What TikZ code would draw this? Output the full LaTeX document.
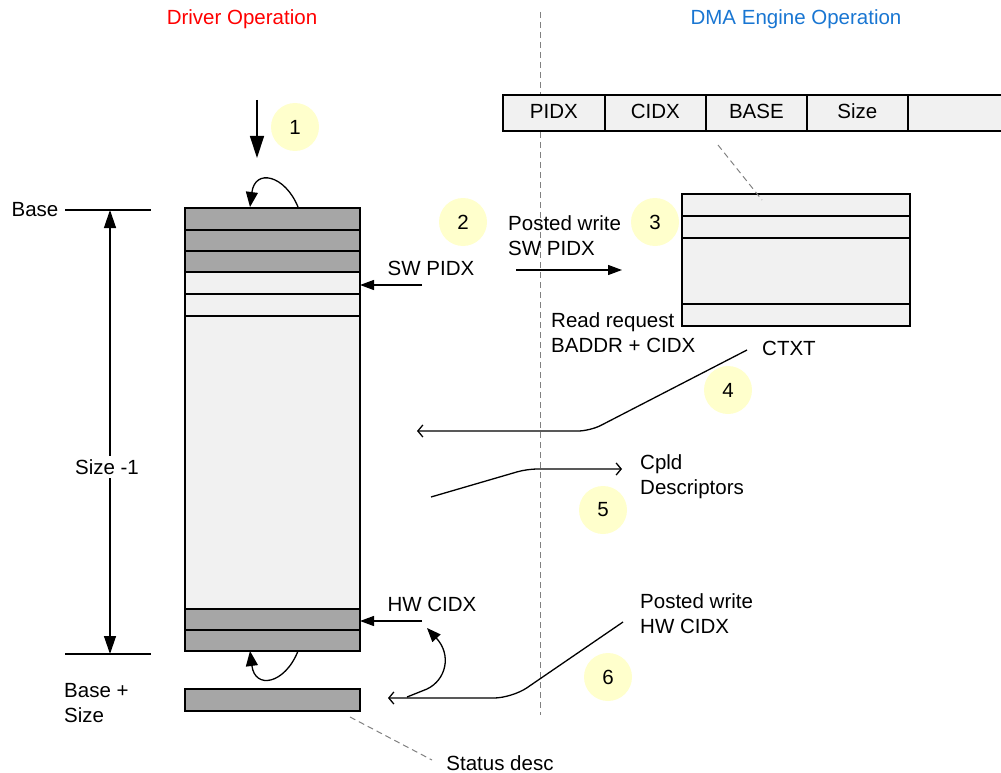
\documentclass[tikz,border=0pt]{standalone}
\usepackage{fontspec}
\setmainfont{Liberation Sans}
\usetikzlibrary{arrows.meta}
\definecolor{darkcell}{RGB}{166,166,166}
\definecolor{lightcell}{RGB}{241,241,241}
\definecolor{bubble}{RGB}{255,255,204}
\definecolor{titlered}{RGB}{255,0,0}
\definecolor{titleblue}{RGB}{25,118,210}
\tikzset{
  cell/.style={draw=black, line width=1.8pt, anchor=north west, inner sep=0pt, font=\fontsize{20.5}{24}\selectfont},
  dcell/.style={cell, fill=darkcell},
  lcell/.style={cell, fill=lightcell},
  tcell/.style={lcell, text height=15pt, text depth=4pt},
  bub/.style={circle, fill=bubble, minimum size=48pt, inner sep=0pt, font=\fontsize{20.5}{24}\selectfont},
  lbl/.style={font=\fontsize{20.5}{25}\selectfont, inner sep=0pt},
  lbll/.style={lbl, align=left, anchor=west},
  filled/.style={line width=1.3pt, -{Triangle[length=14pt,width=10pt]}},
  openar/.style={line width=1.3pt, -{Straight Barb[length=5pt,width=12pt]}},
  guide/.style={gray, dashed, line width=1pt, dash pattern=on 6pt off 4pt},
}
\begin{document}
\begin{tikzpicture}[x=1pt,y=-1pt]
\useasboundingbox (0,0) rectangle (1001,773);
\clip (0,0) rectangle (1001,773);
% titles
\node[lbl, text=titlered] (t1) at (242,19) {Driver Operation};
\node[lbl, text=titleblue] (t2) at (796,19) {DMA Engine Operation};
% divider
\coordinate (dvt) at (540,12);
\coordinate (dvb) at (540,715);
\draw[guide] (dvt) -- (dvb);
% left column
\node[dcell, minimum width=175pt, minimum height=22pt] (l1) at (184,207) {};
\node[dcell, minimum width=175pt, minimum height=21pt] (l2) at (184,229) {};
\node[dcell, minimum width=175pt, minimum height=21pt] (l3) at (184,250) {};
\node[lcell, minimum width=175pt, minimum height=22pt] (l4) at (184,271) {};
\node[lcell, minimum width=175pt, minimum height=22pt] (l5) at (184,293) {};
\node[lcell, minimum width=175pt, minimum height=293pt] (l6) at (184,315) {};
\node[dcell, minimum width=175pt, minimum height=21pt] (l7) at (184,608) {};
\node[dcell, minimum width=175pt, minimum height=21pt] (l8) at (184,629) {};
\node[dcell, minimum width=175pt, minimum height=22pt] (sd) at (184,688) {};
% top bar
\node[tcell, minimum width=102pt, minimum height=36pt] (pidx) at (502,94) {PIDX};
\node[tcell, minimum width=101pt, minimum height=36pt] (cidx) at (604,94) {CIDX};
\node[tcell, minimum width=101pt, minimum height=36pt] (base) at (705,94) {BASE};
\node[tcell, minimum width=101pt, minimum height=36pt] (size) at (806,94) {Size};
\node[tcell, minimum width=110pt, minimum height=36pt] (rest) at (907,94) {};
% context box
\node[lcell, minimum width=228pt, minimum height=22pt] (r1) at (681,193) {};
\node[lcell, minimum width=228pt, minimum height=22pt] (r2) at (681,215) {};
\node[lcell, minimum width=228pt, minimum height=66pt] (r3) at (681,237) {};
\node[lcell, minimum width=228pt, minimum height=22pt] (r4) at (681,303) {};
\coordinate (bs1) at (718,145);
\coordinate (bs2) at (762,200);
\draw[guide] (bs1) -- (bs2);
% bubbles
\node[bub] (b1) at (295,127) {1};
\node[bub] (b2) at (463,222) {2};
\node[bub] (b3) at (655,222) {3};
\node[bub] (b4) at (728,390) {4};
\node[bub] (b5) at (603,510) {5};
\node[bub] (b6) at (608,677) {6};
% base / size markers
\node[lbl] (basel) at (35,210) {Base};
\coordinate (bl1) at (65,210);
\coordinate (bl2) at (151,210);
\draw[line width=1.3pt] (bl1) -- (bl2);
\coordinate (el1) at (65,654);
\coordinate (el2) at (151,654);
\draw[line width=1.3pt] (el1) -- (el2);
\node[lbll] (basesz) at (64,703) {Base +\\Size};
\coordinate (sa) at (110,210);
\coordinate (sb) at (110,654);
\draw[line width=1.3pt, {Triangle[length=18pt,width=12pt]}-{Triangle[length=18pt,width=12pt]}] (sa) -- (sb);
\node[lbl, fill=white, inner sep=3pt] (szm) at (107,467) {Size -1};
% step 1 arrow
\coordinate (a1s) at (257,100);
\coordinate (a1e) at (257,158);
\draw[line width=1.3pt, -{Triangle[length=22pt,width=14pt]}] (a1s) -- (a1e);
\coordinate (lp1) at (298,207);
\coordinate (lp2) at (250,207);
\draw[line width=1.3pt, -{Triangle[length=15pt,width=12pt]}] (lp1) .. controls (285,175) and (255,168) .. (lp2);
\coordinate (lp3) at (298,651);
\coordinate (lp4) at (250,651);
\draw[line width=1.3pt, -{Triangle[length=15pt,width=12pt]}] (lp3) .. controls (285,684) and (255,690) .. (lp4);
% SW PIDX
\node[lbl] (swp) at (431,268) {SW PIDX};
\coordinate (swa) at (422,285);
\coordinate (swb) at (360,285);
\draw[filled] (swa) -- (swb);
% posted write SW PIDX
\node[lbll] (pw1) at (508,236) {Posted write\\SW PIDX};
\coordinate (pwa) at (516,270);
\coordinate (pwb) at (622,270);
\draw[filled] (pwa) -- (pwb);
% read request
\node[lbll] (rr) at (551,333) {Read request\\BADDR + CIDX};
\node[lbl] (ctxt) at (789,348) {CTXT};
\coordinate (c1) at (747,350);
\coordinate (c2) at (590,431);
\coordinate (c3) at (417,431);
\draw[openar, rounded corners=12pt] (c1) -- (c2) -- (c3);
% Cpld descriptors
\node[lbll] (cpld) at (640,477) {Cpld\\Descriptors};
\coordinate (d1) at (431,497);
\coordinate (d2) at (527,469);
\coordinate (d3) at (622,469);
\draw[openar, rounded corners=10pt] (d1) -- (d2) -- (d3);
% HW CIDX
\node[lbl] (hwc) at (432,604) {HW CIDX};
\coordinate (hwa) at (422,621);
\coordinate (hwb) at (360,621);
\draw[filled] (hwa) -- (hwb);
\node[lbll] (pw2) at (640,614) {Posted write\\HW CIDX};
\coordinate (h1) at (623,622);
\coordinate (h2) at (512,698);
\coordinate (h3) at (388,698);
\draw[openar, rounded corners=18pt] (h1) -- (h2) -- (h3);
\coordinate (k1) at (407,697);
\coordinate (k2) at (427,689);
\coordinate (k3) at (427,628);
\draw[line width=1.3pt, -{Triangle[length=14pt,width=11pt]}] (k1) -- (k2) .. controls (446,680) and (452,655) .. (k3);
% status desc
\coordinate (st1) at (350,717);
\coordinate (st2) at (432,760);
\draw[guide] (st1) -- (st2);
\node[lbl] (stat) at (500,763) {Status desc};
\end{tikzpicture}
\end{document}
